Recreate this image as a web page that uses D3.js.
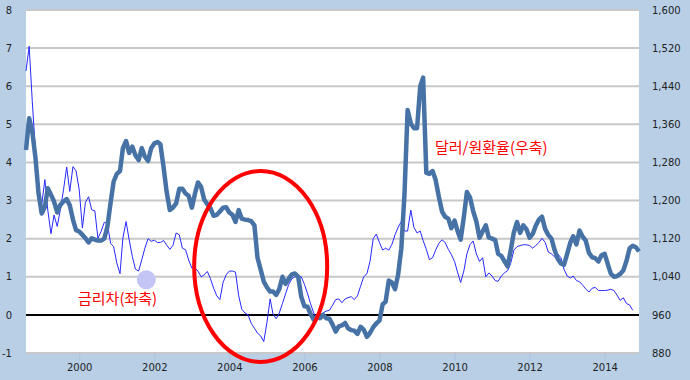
<!DOCTYPE html>
<html>
<head>
<meta charset="utf-8">
<script src="https://cdn.jsdelivr.net/npm/d3@7"></script>
<style>
  body { margin: 0; background: #fff; }
  svg text { font-family: "DejaVu Sans", Verdana, sans-serif; }
</style>
</head>
<body>
<div id="chart"></div>
<script>
// monthly series, first month = Aug 1998
const startMonth = new Date(1998, 7, 1);
const endMonth = new Date(2014, 11, 1);

// interest rate gap (left axis, %p)
const rateGap = [
  6.4, 7.05, 5.6, 4.3, 3.2, 2.9, 3.55, 2.75, 2.13, 2.62,
  2.32, 2.76, 3.28, 3.88, 3.24, 3.89, 3.78, 3.28, 2.28, 2.95,
  3.1, 2.76, 2.73, 2.01, 2.19, 2.43, 2.4, 1.88, 1.79, 1.36,
  1.08, 2.02, 2.45, 1.97, 1.53, 1.2, 1.15, 1.45, 1.75, 2.0,
  1.93, 1.96, 1.9, 1.9, 1.95, 1.83, 1.72, 1.82, 2.15, 2.1,
  1.75, 1.71, 1.44, 1.23, 1.23, 1.15, 1.0, 1.05, 1.14, 0.95,
  0.7, 0.5, 0.4, 0.85, 1.05, 1.15, 1.15, 1.12, 0.5, 0.15,
  0.05, 0.0, -0.22, -0.35, -0.48, -0.55, -0.7, -0.2, 0.42, 0.02,
  -0.1, 0.05, 0.3, 0.55, 0.8, 0.95, 1.0, 1.0, 1.0, 0.8,
  0.55, 0.3, 0.05, -0.08, -0.02, 0.05, 0.1, 0.12, 0.25, 0.4,
  0.42, 0.32, 0.42, 0.45, 0.48, 0.4, 0.5, 0.75, 1.0, 1.08,
  1.4, 2.0, 2.12, 1.9, 1.7, 1.75, 1.7, 1.85, 2.1, 2.3,
  2.45, 2.2, 2.2, 2.75, 2.3, 2.15, 2.2, 1.95, 1.72, 1.45,
  1.5, 1.7, 1.88, 1.97, 1.9, 1.72, 1.58, 1.4, 1.1, 0.85,
  1.15, 1.6, 1.85, 1.94, 1.6, 1.4, 1.5, 1.0, 1.1, 1.02,
  0.9, 0.88, 1.02, 1.1, 1.16, 1.35, 1.7, 1.79, 1.82, 1.84,
  1.84, 1.82, 1.75, 1.82, 1.9, 2.01, 1.9, 1.65, 1.6, 1.52,
  1.6, 1.5, 1.2, 1.02, 0.97, 1.02, 0.9, 0.87, 0.78, 0.68,
  0.6, 0.7, 0.72, 0.64, 0.64, 0.64, 0.65, 0.67, 0.64, 0.52,
  0.38, 0.45, 0.3, 0.26, 0.12
];

// USD/KRW (right axis)
const usdKrw = [
  1306, 1373, 1345, 1290, 1215, 1173, 1187, 1226, 1212, 1198,
  1175, 1191, 1198, 1203, 1190, 1160, 1138, 1135, 1128, 1121,
  1112, 1121, 1118, 1116, 1116, 1120, 1145, 1195, 1240, 1256,
  1262, 1310, 1325, 1300, 1313, 1295, 1285, 1310, 1292, 1283,
  1310, 1320, 1323, 1318, 1270, 1218, 1180, 1185, 1194, 1225,
  1225, 1215, 1210, 1185, 1215, 1238, 1229, 1202, 1192, 1184,
  1168, 1170, 1177, 1185, 1186, 1175, 1170, 1155, 1180, 1162,
  1160, 1159, 1157, 1148, 1080, 1055, 1030, 1018, 1009, 1009,
  1002, 1014, 1040, 1025, 1036, 1045, 1047, 1040, 998, 978,
  977, 962, 950, 956, 953, 960, 953, 952, 940, 925,
  936, 938, 943, 932, 928, 927, 920, 935, 929, 914,
  922, 934, 942, 948, 982, 988, 1032, 1028, 1014, 1045,
  1100, 1215, 1390, 1362, 1352, 1352, 1440, 1458, 1258, 1256,
  1262, 1243, 1208, 1177, 1166, 1162, 1142, 1158, 1135, 1118,
  1165, 1218, 1206, 1178, 1156, 1122, 1135, 1148, 1122, 1120,
  1117, 1088, 1084, 1073, 1062, 1095, 1133, 1155, 1132, 1148,
  1140, 1122, 1130, 1147, 1160, 1166, 1140, 1128, 1120, 1096,
  1078, 1068, 1065, 1088, 1112, 1125, 1108, 1137, 1124, 1116,
  1090, 1081, 1079, 1072, 1085, 1088, 1066, 1047, 1040, 1041,
  1046, 1053, 1073, 1100, 1105, 1102, 1093
];

const leftTicks = [-1, 0, 1, 2, 3, 4, 5, 6, 7, 8];
const rightTicks = [880, 960, 1040, 1120, 1200, 1280, 1360, 1440, 1520, 1600];
const yearTicks = [2000, 2002, 2004, 2006, 2008, 2010, 2012, 2014];

const rateLabel = "금리차(좌축)";
const fxLabel = "달러/원환율(우축)";

const width = 690, height = 380;
const plot = { left: 26, right: 639, top: 10, bottom: 353 };

const svg = d3.select("#chart").append("svg")
  .attr("width", width)
  .attr("height", height);

// blue frame + white plot area
svg.append("rect").attr("width", width).attr("height", height).attr("fill", "#b8cfe6");
svg.append("rect")
  .attr("x", plot.left).attr("y", plot.top)
  .attr("width", plot.right - plot.left).attr("height", plot.bottom - plot.top)
  .attr("fill", "#fff");

const x = d3.scaleTime().domain([startMonth, endMonth]).range([plot.left, plot.right]);
const yL = d3.scaleLinear().domain([-1, 8]).range([plot.bottom, plot.top]);
const yR = d3.scaleLinear().domain([880, 1600]).range([plot.bottom, plot.top]);

const monthDate = i => d3.timeMonth.offset(startMonth, i);

// gridlines
svg.append("g")
  .selectAll("line")
  .data(leftTicks.filter(d => d !== 0))
  .join("line")
  .attr("x1", plot.left).attr("x2", plot.right)
  .attr("y1", d => yL(d)).attr("y2", d => yL(d))
  .attr("stroke", "#c8c8c8")
  .attr("stroke-width", 2);

// zero line
svg.append("line")
  .attr("x1", plot.left).attr("x2", plot.right)
  .attr("y1", yL(0)).attr("y2", yL(0))
  .attr("stroke", "#000")
  .attr("stroke-width", 2);

// axes
const axisL = svg.append("g")
  .attr("transform", `translate(${plot.left},0)`)
  .call(d3.axisLeft(yL).tickValues(leftTicks).tickSize(0).tickPadding(14)
    .tickFormat(d => String(d)));
const axisR = svg.append("g")
  .attr("transform", `translate(${plot.right},0)`)
  .call(d3.axisRight(yR).tickValues(rightTicks).tickSize(0).tickPadding(13).tickFormat(d3.format(",")));
const axisX = svg.append("g")
  .attr("transform", `translate(0,${plot.bottom})`)
  .call(d3.axisBottom(x).tickValues(yearTicks.map(y => new Date(y, 0, 1)))
    .tickSize(8).tickPadding(3).tickFormat(d3.timeFormat("%Y")));

[axisL, axisR, axisX].forEach(g => {
  g.select(".domain").remove();
  g.selectAll("text").attr("font-size", 10).attr("fill", "#222")
    .style("font-family", "'DejaVu Sans', Verdana, sans-serif");
});
axisX.selectAll("line").attr("stroke", "#a9c2dc");

// lines
const rateLine = d3.line()
  .x((d, i) => x(monthDate(i)))
  .y(d => yL(d));
const fxLine = d3.line()
  .x((d, i) => x(monthDate(i)))
  .y(d => yR(d));

svg.append("path")
  .datum(rateGap)
  .attr("d", rateLine)
  .attr("fill", "none")
  .attr("stroke", "#2828ff")
  .attr("stroke-width", 1);

svg.append("path")
  .datum(usdKrw)
  .attr("d", fxLine)
  .attr("fill", "none")
  .attr("stroke", "#4672a6")
  .attr("stroke-width", 4.5)
  .attr("stroke-linejoin", "round");

// annotations
svg.append("circle")
  .attr("cx", x(new Date(2001, 9, 15)))
  .attr("cy", yL(0.92))
  .attr("r", 9.5)
  .attr("fill", "#c3c6f5");

svg.append("ellipse")
  .attr("cx", x(new Date(2004, 10, 1)))
  .attr("cy", yL(1.27))
  .attr("rx", 66.5)
  .attr("ry", 95.5)
  .attr("fill", "none")
  .attr("stroke", "#ff0000")
  .attr("stroke-width", 4);

svg.append("text")
  .attr("x", 78).attr("y", 304)
  .style("font-family", "'Noto Sans CJK KR', sans-serif")
  .attr("font-size", 15)
  .attr("fill", "#ff0000")
  .text(rateLabel);

svg.append("text")
  .attr("x", 435).attr("y", 153)
  .style("font-family", "'Noto Sans CJK KR', sans-serif")
  .attr("font-size", 15)
  .attr("fill", "#ff0000")
  .text(fxLabel);
</script>
</body>
</html>
